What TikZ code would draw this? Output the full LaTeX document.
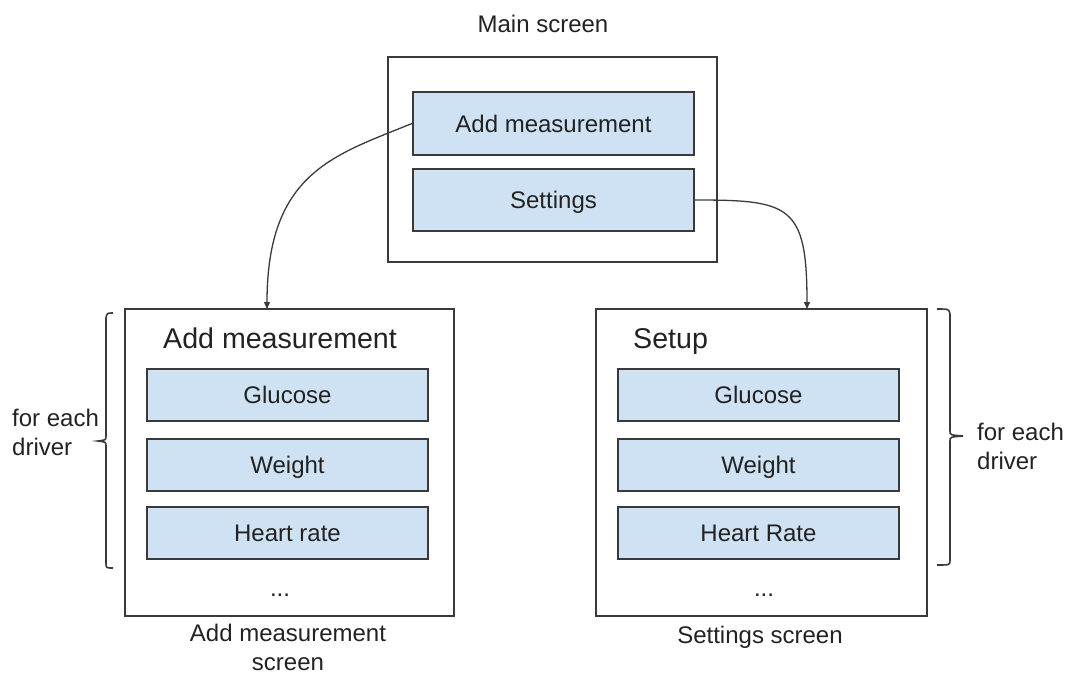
\documentclass[tikz,border=0pt]{standalone}
\usepackage{fontspec}
\setmainfont{Liberation Sans}
\usetikzlibrary{arrows.meta}
\definecolor{btnfill}{HTML}{CFE2F3}
\definecolor{edge}{HTML}{3A3A3A}
\definecolor{txt}{HTML}{222222}
\begin{document}
\begin{tikzpicture}[x=1pt,y=-1pt,
  every node/.style={text=txt,font=\fontsize{24}{29}\selectfont},
  screenbox/.style={draw=edge,line width=2pt,fill=white,minimum width=#1,minimum height=307pt,inner sep=0pt},
  btn/.style={draw=edge,line width=2pt,fill=btnfill,minimum width=281pt,minimum height=#1,inner sep=0pt,text height=17.2pt,text depth=0pt},
  title/.style={font=\fontsize{28.6}{34}\selectfont,inner sep=0pt,anchor=base west},
  lbl/.style={inner sep=0pt,anchor=base},
  conn/.style={draw=edge,line width=1.3pt,-{Triangle[length=7pt,width=6pt]}},
  brace/.style={draw=edge,line width=1.6pt}
]
\useasboundingbox (0,0) rectangle (1068,674);

% Main screen
\node[lbl] (mainlbl) at (543,33) {Main screen};
\node[draw=edge,line width=2pt,minimum width=329pt,minimum height=205pt,inner sep=0pt] (main) at (552.5,159.5) {};
\node[btn=63pt] (am) at (553.5,123.5) {Add measurement};
\node[btn=62pt] (st) at (553.5,200) {Settings};

% Add measurement screen
\node[screenbox=329pt] (lb) at (289.5,462.5) {};
\node[title] (lt) at (163,348) {Add measurement};
\node[btn=52pt] (lg) at (287.5,394.5) {Glucose};
\node[btn=52pt] (lw) at (287.5,464.5) {Weight};
\node[btn=52pt] (lh) at (287.5,533) {Heart rate};
\node[lbl] (ld) at (280,596) {...};
\node[inner sep=0pt,anchor=base,align=center] (lbot) at (288,670) {Add measurement\\screen};

% Settings screen
\node[screenbox=331pt] (rb) at (761.5,462.5) {};
\node[title] (rt) at (633,348) {Setup};
\node[btn=52pt] (rg) at (758.5,394.5) {Glucose};
\node[btn=52pt] (rw) at (758.5,464.5) {Weight};
\node[btn=52pt] (rh) at (758.5,533) {Heart Rate};
\node[lbl] (rd) at (764,596) {...};
\node[lbl] (rbot) at (760,643) {Settings screen};

% Braces
\draw[brace] (113,313) .. controls (107,313) .. (106,318) -- (106,436) .. controls (106,440) .. (98,441)
  .. controls (106,442) .. (106,446) -- (106,563) .. controls (106,568) .. (113,568);
\draw[brace] (937,309) .. controls (949,309) .. (950,314) -- (950,431) .. controls (950,435) .. (963,436)
  .. controls (950,437) .. (950,441) -- (950,560) .. controls (950,565) .. (937,565);
\node[inner sep=0pt,anchor=base west,align=left] (lfe) at (12,455) {for each\\driver};
\node[inner sep=0pt,anchor=base west,align=left] (rfe) at (977,469) {for each\\driver};

% Connectors
\coordinate (lin) at (267,309);
\coordinate (rin) at (807,309);
\draw[conn] (am.west) .. controls (335,155) and (267,172) .. (lin);
\draw[conn] (st.east) .. controls (790,200) and (807,205) .. (rin);
\end{tikzpicture}
\end{document}
